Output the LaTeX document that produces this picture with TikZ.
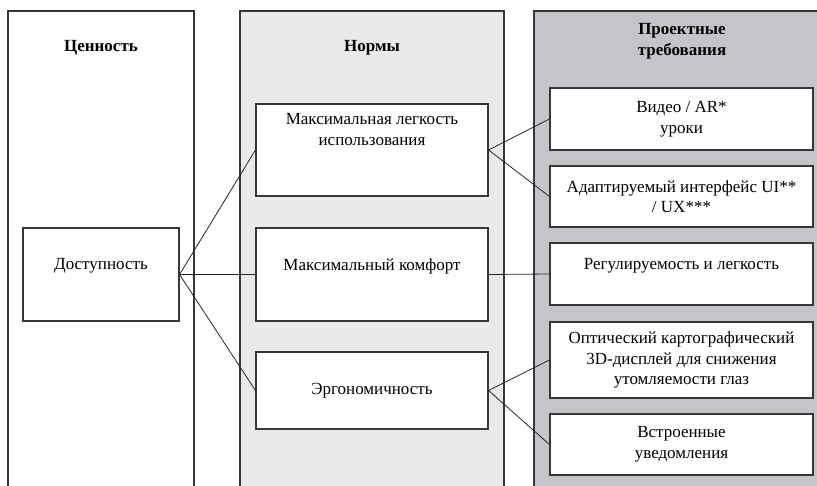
\documentclass[tikz,border=0pt]{standalone}
\usepackage{fontspec}
\setmainfont{Liberation Serif}
\usepackage{xcolor}
\definecolor{normfill}{RGB}{233,234,236}
\definecolor{reqfill}{RGB}{196,197,200}
\definecolor{frame}{RGB}{55,55,55}

\begin{document}
\begin{tikzpicture}[x=1pt, y=-1pt,
  every node/.style={font=\fontsize{17}{20.5}\selectfont},
  colframe/.style={draw=frame, line width=1.1pt},
  hdr/.style={font=\fontsize{17}{20.5}\selectfont\bfseries, align=center},
  box/.style={draw=frame, line width=1.1pt, fill=white, align=center, inner sep=0pt},
  link/.style={draw=black!85, line width=0.8pt}]
  \useasboundingbox (0,0) rectangle (817,486);
  % column backgrounds
  \fill[normfill] (240,11) rectangle (504,490);
  \fill[reqfill] (534,11) rectangle (820,490);
  \draw[colframe] (8,490) -- (8,11) -- (194,11) -- (194,490);
  \draw[colframe] (240,490) -- (240,11) -- (504,11) -- (504,490);
  \draw[colframe] (534,490) -- (534,11) -- (820,11);
  % headers
  \node[hdr] (hdrValue) at (101,48) {Ценность};
  \node[hdr] (hdrNorms) at (372,48) {Нормы};
  \node[hdr] (hdrReq) at (682,41) {Проектные\\требования};
  % value
  \node[box, minimum width=156, minimum height=93] (value) at (101,274.5) {Доступность\\~};
  % norms
  \node[box, minimum width=232, minimum height=92] (normEase) at (372,150) {Максимальная легкость\\использования\\~\\~};
  \node[box, minimum width=232, minimum height=93] (normComfort) at (372,274.5) {Максимальный комфорт\\~};
  \node[box, minimum width=232, minimum height=77] (normErgo) at (372,390.5) {Эргономичность};
  % requirements
  \node[box, minimum width=263, minimum height=62] (reqVideo) at (681.5,119) {Видео / AR*\\уроки};
  \node[box, minimum width=263, minimum height=61] (reqUI) at (681.5,196.5) {Адаптируемый интерфейс UI**\\/ UX***};
  \node[box, minimum width=263, minimum height=62] (reqAdjust) at (681.5,274) {Регулируемость и легкость\\~};
  \node[box, minimum width=263, minimum height=76] (reqDisplay) at (681.5,360) {Оптический картографический\\3D-дисплей для снижения\\утомляемости глаз};
  \node[box, minimum width=263, minimum height=61] (reqNotify) at (681.5,444.5) {Встроенные\\уведомления};
  % links
  \draw[link] (value.east) -- (normEase.west);
  \draw[link] (value.east) -- (normComfort.west);
  \draw[link] (value.east) -- (normErgo.west);
  \draw[link] (normEase.east) -- (reqVideo.west);
  \draw[link] (normEase.east) -- (reqUI.west);
  \draw[link] (normComfort.east) -- (reqAdjust.west);
  \draw[link] (normErgo.east) -- (reqDisplay.west);
  \draw[link] (normErgo.east) -- (reqNotify.west);
\end{tikzpicture}
\end{document}
